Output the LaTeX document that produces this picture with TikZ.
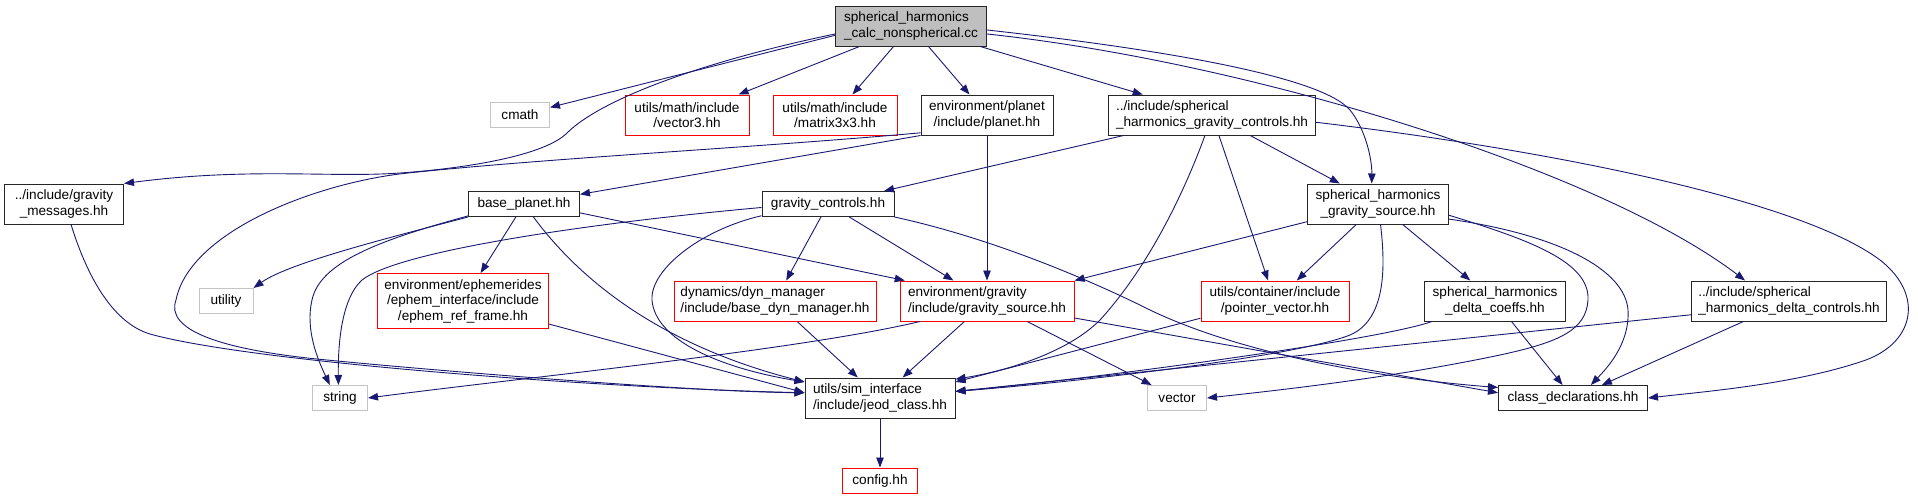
\documentclass[tikz,border=0pt]{standalone}
\usepackage{fontspec}
\setmainfont{Liberation Sans}
\usepackage{xcolor}
\usepackage{tikz}
\usetikzlibrary{arrows.meta, positioning}
\definecolor{edgecol}{HTML}{191970}
\definecolor{sysgray}{HTML}{C4C4C4}
\definecolor{hlfill}{HTML}{BFBFBF}
\tikzset{
    file/.style={rectangle, draw=black!85, fill=white, line width=1pt, inner sep=0pt, align=center, font=\fontsize{13.6}{15.5}\selectfont},
    sysfile/.style={file, draw=sysgray},
    redfile/.style={file, draw=red},
    mainfile/.style={file, fill=hlfill},
    dep/.style={edgecol, line width=0.9pt, -{Triangle[length=10pt,width=7.5pt]}}
}

\begin{document}
\begin{tikzpicture}[x=1pt, y=-1pt,
        % one or two lines of text
        oneline/.style={minimum height=25pt},
        twoline/.style={minimum height=40pt}
    ]
        \useasboundingbox (0,0) rectangle (1918,499);

        % --- Top: the source file ---
        \node (main) [mainfile, twoline, minimum width=151pt, align=left] at (911,26) {spherical\_harmonics\\\_calc\_nonspherical.cc};

        % --- Row 1 ---
        \node (cmath) [sysfile, oneline, minimum width=59pt] at (520,115) {cmath};
        \node (vecthree) [redfile, twoline, minimum width=124pt] at (687,115) {utils/math/include\\/vector3.hh};
        \node (matthree) [redfile, twoline, minimum width=124pt] at (835,115) {utils/math/include\\/matrix3x3.hh};
        \node (planet) [file, twoline, minimum width=132pt] at (987,115) {environment/planet\\/include/planet.hh};
        \node (shgc) [file, twoline, minimum width=207pt, align=left] at (1212,115) {../include/spherical\\\_harmonics\_gravity\_controls.hh};

        % --- Row 2 ---
        \node (gmsg) [file, twoline, minimum width=119pt] at (64,204) {../include/gravity\\\_messages.hh};
        \node (bplanet) [file, oneline, minimum width=111pt] at (524,204) {base\_planet.hh};
        \node (gctrl) [file, oneline, minimum width=132pt] at (828,204) {gravity\_controls.hh};
        \node (shgs) [file, twoline, minimum width=141pt] at (1378,204) {spherical\_harmonics\\\_gravity\_source.hh};

        % --- Row 3 ---
        \node (utility) [sysfile, oneline, minimum width=54pt] at (226,301) {utility};
        \node (ephem) [redfile, minimum height=55pt, minimum width=171pt] at (463,301) {environment/ephemerides\\/ephem\_interface/include\\/ephem\_ref\_frame.hh};
        \node (bdm) [redfile, twoline, minimum width=202pt, align=left] at (775,301) {dynamics/dyn\_manager\\/include/base\_dyn\_manager.hh};
        \node (gsrc) [redfile, twoline, minimum width=174pt, align=left] at (987,301) {environment/gravity\\/include/gravity\_source.hh};
        \node (ptrvec) [redfile, twoline, minimum width=148pt] at (1275,301) {utils/container/include\\/pointer\_vector.hh};
        \node (shdc) [file, twoline, minimum width=141pt] at (1495,301) {spherical\_harmonics\\\_delta\_coeffs.hh};
        \node (shdctl) [file, twoline, minimum width=195pt, align=left] at (1789,301) {../include/spherical\\\_harmonics\_delta\_controls.hh};

        % --- Row 4 ---
        \node (string) [sysfile, oneline, minimum width=55pt] at (340,398) {string};
        \node (jeod) [file, twoline, minimum width=150pt, align=left] at (880,398) {utils/sim\_interface\\/include/jeod\_class.hh};
        \node (vector) [sysfile, oneline, minimum width=59pt] at (1177,398) {vector};
        \node (classdecl) [file, oneline, minimum width=149pt] at (1573,398) {class\_declarations.hh};

        % --- Row 5 ---
        \node (config) [redfile, oneline, minimum width=75pt, below=49pt of jeod] {config.hh};

        % --- Includes of the source file ---
        \draw [dep] (main.187) -- (cmath);
        \draw [dep] (main.186) .. controls (700,62) and (600,100) .. (567,133) .. controls (545,155) and (470,168) .. (400,173) .. controls (330,178) and (250,167) .. (gmsg.north east);
        \draw [dep] (main) -- (vecthree);
        \draw [dep] (main) -- (matthree);
        \draw [dep] (main) -- (planet);
        \draw [dep] (main) -- (shgc);
        \draw [dep] (main.-3) .. controls (1150,48) and (1320,75) .. (1350,110) .. controls (1366,130) and (1372,160) .. (shgs.107);
        \draw [dep] (main.-6) .. controls (1250,62) and (1600,170) .. (shdctl.155);

        % --- spherical_harmonics_gravity_controls.hh ---
        \draw [dep] (shgc) -- (gctrl);
        \draw [dep] (shgc.251) .. controls (1185,190) and (1150,265) .. (1100,320) .. controls (1065,355) and (1000,372) .. (jeod.14);
        \draw [dep] (shgc) -- (ptrvec);
        \draw [dep] (shgc) -- (shgs);
        \draw [dep] (shgc.-4) .. controls (1550,150) and (1800,200) .. (1880,260) .. controls (1925,295) and (1915,345) .. (1860,362) .. controls (1790,385) and (1700,392) .. (classdecl.east);

        % --- planet.hh ---
        \draw [dep] (planet.south west) -- (bplanet);
        \draw [dep] (planet.195) .. controls (750,148) and (550,158) .. (408,173) .. controls (320,182) and (190,230) .. (176,300) .. controls (165,330) and (220,350) .. (327,360) .. controls (450,372) and (700,392) .. (jeod.176);
        \draw [dep] (planet) -- (gsrc);

        % --- base_planet.hh ---
        \draw [dep] (bplanet.south west) .. controls (400,235) and (290,262) .. (utility.north east);
        \draw [dep] (bplanet.192) .. controls (380,240) and (320,262) .. (312,300) .. controls (305,330) and (318,360) .. (string.128);
        \draw [dep] (bplanet) -- (ephem);
        \draw [dep] (bplanet.306) .. controls (580,280) and (660,345) .. (jeod.168);
        \draw [dep] (bplanet.-9) -- (gsrc.166);

        % --- gravity_controls.hh ---
        \draw [dep] (gctrl.183) .. controls (600,222) and (400,250) .. (362,280) .. controls (340,300) and (338,350) .. (string.97);
        \draw [dep] (gctrl.190) .. controls (700,230) and (650,270) .. (652,300) .. controls (655,340) and (720,368) .. (jeod.168);
        \draw [dep] (gctrl) -- (bdm);
        \draw [dep] (gctrl) -- (gsrc);
        \draw [dep] (gctrl.south east) .. controls (1000,240) and (1100,285) .. (1150,310) .. controls (1250,358) and (1400,380) .. (classdecl.172);

        % --- spherical_harmonics_gravity_source.hh ---
        \draw [dep] (shgs.194) -- (gsrc.north east);
        \draw [dep] (shgs) -- (ptrvec);
        \draw [dep] (shgs.277) .. controls (1386,270) and (1385,320) .. (1350,335) .. controls (1300,355) and (1100,380) .. (jeod.5);
        \draw [dep] (shgs) -- (shdc);
        \draw [dep] (shgs.-9) .. controls (1530,240) and (1590,262) .. (1588,300) .. controls (1586,330) and (1560,342) .. (1500,355) .. controls (1400,376) and (1300,388) .. (vector.east);
        \draw [dep] (shgs.-12) .. controls (1560,235) and (1625,270) .. (1628,310) .. controls (1630,345) and (1605,370) .. (classdecl.36);

        % --- third row ---
        \draw [dep] (gmsg.289) .. controls (85,270) and (110,322) .. (150,334) .. controls (250,362) and (600,388) .. (jeod.176);
        \draw [dep] (ephem.-15) -- (jeod.176);
        \draw [dep] (bdm) -- (jeod);
        \draw [dep] (gsrc.197) .. controls (800,350) and (520,378) .. (string.east);
        \draw [dep] (gsrc) -- (jeod);
        \draw [dep] (gsrc) -- (vector);
        \draw [dep] (gsrc.-11) -- (classdecl.176);
        \draw [dep] (ptrvec.193) -- (jeod.12);
        \draw [dep] (shdc.198) .. controls (1380,340) and (1100,378) .. (jeod.5);
        \draw [dep] (shdc) -- (classdecl);
        \draw [dep] (shdctl.188) -- (jeod.5);
        \draw [dep] (shdctl) -- (classdecl);

        % --- jeod_class.hh ---
        \draw [dep] (jeod) -- (config);

    \end{tikzpicture}
\end{document}
